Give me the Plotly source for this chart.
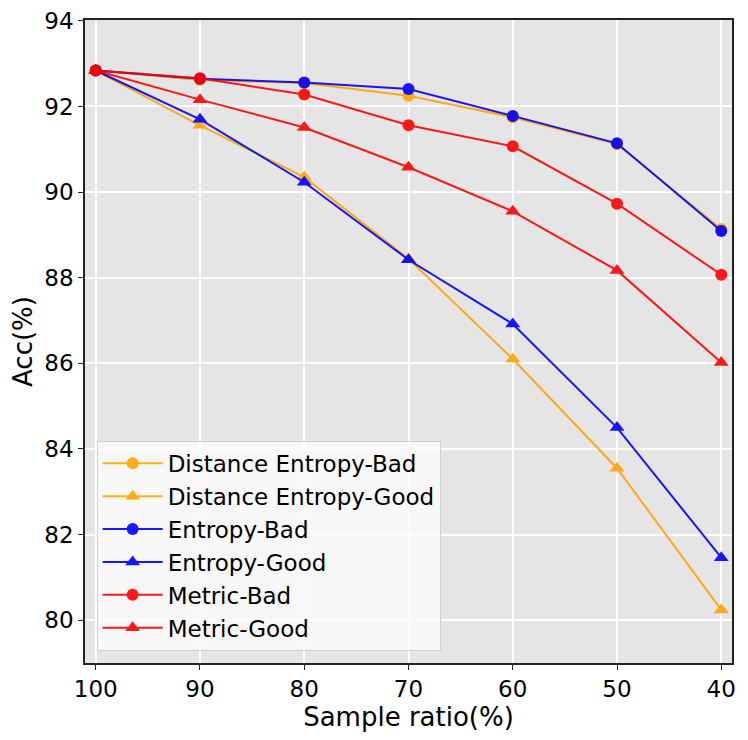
import plotly.graph_objects as go

ratios = [100, 90, 80, 70, 60, 50, 40]

dist_entropy_bad = [92.84, 92.62, 92.55, 92.25, 91.75, 91.12, 89.14]
dist_entropy_good = [92.84, 91.56, 90.35, 88.44, 86.10, 83.55, 80.24]
entropy_bad = [92.84, 92.65, 92.56, 92.41, 91.78, 91.14, 89.09]
entropy_good = [92.84, 91.70, 90.23, 88.42, 86.92, 84.50, 81.46]
metric_bad = [92.84, 92.66, 92.28, 91.56, 91.07, 89.73, 88.07]
metric_good = [92.84, 92.16, 91.51, 90.58, 89.55, 88.17, 86.02]

series = [
    ("Distance Entropy-Bad", dist_entropy_bad, "orange", "circle"),
    ("Distance Entropy-Good", dist_entropy_good, "orange", "triangle-up"),
    ("Entropy-Bad", entropy_bad, "blue", "circle"),
    ("Entropy-Good", entropy_good, "blue", "triangle-up"),
    ("Metric-Bad", metric_bad, "red", "circle"),
    ("Metric-Good", metric_good, "red", "triangle-up"),
]

fig = go.Figure()
for name, vals, color, symbol in series:
    fig.add_trace(go.Scatter(
        x=ratios, y=vals, name=name, mode="lines+markers",
        line=dict(color=color, width=2),
        marker=dict(symbol=symbol, size=12 if symbol == "circle" else 13, color=color),
        opacity=0.9,
    ))

axis_common = dict(
    showline=True, linecolor="#222", linewidth=1.5, mirror=True,
    gridcolor="white", gridwidth=1.5, zeroline=False,
    ticks="outside", ticklen=5, tickcolor="#222",
    tickfont=dict(size=23, color="black"),
    ticklabeloverflow="allow", automargin=False,
)

# page body has an 8px margin, so the figure is a bit smaller than the window
fig.update_layout(
    width=732, height=724,
    margin=dict(l=77, r=8, t=12, b=69),
    plot_bgcolor="#e5e5e5", paper_bgcolor="white",
    font=dict(family="DejaVu Sans", color="black"),
    xaxis=dict(range=[101.03, 38.97], tickvals=ratios,
               title=dict(text="Sample ratio(%)", font=dict(size=26), standoff=4),
               **axis_common),
    yaxis=dict(range=[79.0, 94.02], tickvals=[80, 82, 84, 86, 88, 90, 92, 94],
               title=dict(text="Acc(%)", font=dict(size=26), standoff=10),
               **axis_common),
    legend=dict(x=0.018, y=0.019, xanchor="left", yanchor="bottom",
                bgcolor="rgba(250,250,250,0.85)", bordercolor="#d0d0d0", borderwidth=1,
                font=dict(size=23), itemwidth=60),
)

fig.write_html("out.html")
